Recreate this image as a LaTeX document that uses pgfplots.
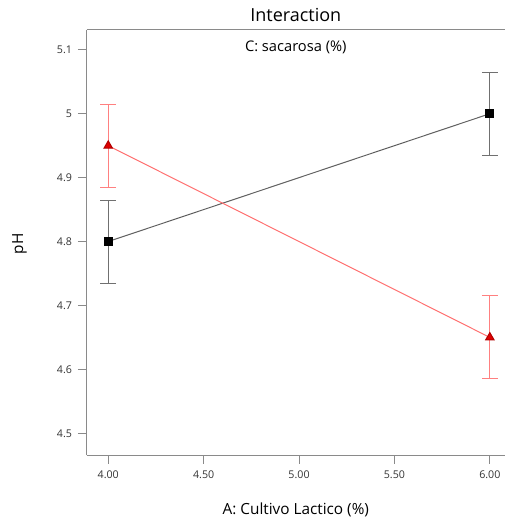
\documentclass[border=0pt]{standalone}
\usepackage{fontspec}
\setmainfont{Open Sans}
\usepackage{pgfplots}
\pgfplotsset{compat=1.18}
\definecolor{redline}{HTML}{FF7070}
\definecolor{rederr}{HTML}{FF8080}
\definecolor{redmark}{HTML}{E00000}
\definecolor{greyline}{HTML}{606060}
\definecolor{greyerr}{HTML}{707070}
\definecolor{spine}{HTML}{8A8A8A}

\begin{document}
\begin{tikzpicture}
\begin{axis}[
  scale only axis, width=313.7pt, height=318.75pt,
  xmin=3.887, xmax=6.079, ymin=4.466, ymax=5.131,
  axis x line*=box, axis y line*=left,
  axis line style={spine, line width=0.75pt},
  xtick={4,4.5,5,5.5,6}, xticklabels={4.00,4.50,5.00,5.50,6.00},
  ytick={4.5,4.6,4.7,4.8,4.9,5,5.1}, yticklabels={4.5,4.6,4.7,4.8,4.9,5,5.1},
  xtick pos=bottom, ytick pos=left, tick align=outside,
  major tick length=6.5pt,
  tick style={spine, line width=0.75pt},
  tick label style={font=\fontsize{8}{9}\selectfont, text=black!80},
  xticklabel style={yshift=-2pt},
  yticklabel style={xshift=-1pt},
  clip=false,
]
\coordinate (bl) at (rel axis cs:0,0);

\addplot[greyline, line width=0.75pt, mark=square*,
  mark options={black, fill=black, solid}, mark size=3pt,
  error bars/.cd, y dir=both, y explicit,
  error bar style={greyerr, line width=0.75pt},
  error mark options={rotate=90, greyerr, mark size=6pt, line width=0.75pt}]
  coordinates {(4,4.8) +- (0,0.065) (6,5.0) +- (0,0.065)};

\addplot[redline, line width=0.75pt, mark=triangle*,
  mark options={draw=red!70!black, fill=redmark, solid}, mark size=3.6pt,
  error bars/.cd, y dir=both, y explicit,
  error bar style={rederr, line width=0.75pt},
  error mark options={rotate=90, rederr, mark size=6pt, line width=0.75pt}]
  coordinates {(4,4.95) +- (0,0.065) (6,4.65) +- (0,0.065)};

\node[font=\fontsize{11}{12}\selectfont] at (rel axis cs:0.5,1) [yshift=-12.75pt] {C: sacarosa (\%)};
\node[font=\fontsize{13.5}{15}\selectfont] at (rel axis cs:0.5,1) [yshift=11.5pt] {Interaction};
\node[font=\fontsize{11.5}{13}\selectfont] at (rel axis cs:0.5,0) [yshift=-41.25pt] {A: Cultivo Lactico (\%)};
\node[font=\fontsize{11.5}{13}\selectfont, xshift=-50.4pt, yshift=-1pt, rotate=90] at (rel axis cs:0,0.5) {pH};
\end{axis}
\pgfresetboundingbox
\useasboundingbox ([xshift=-65pt,yshift=-50.25pt]bl) rectangle ++(378.75pt,391.5pt);
\end{tikzpicture}
\end{document}
